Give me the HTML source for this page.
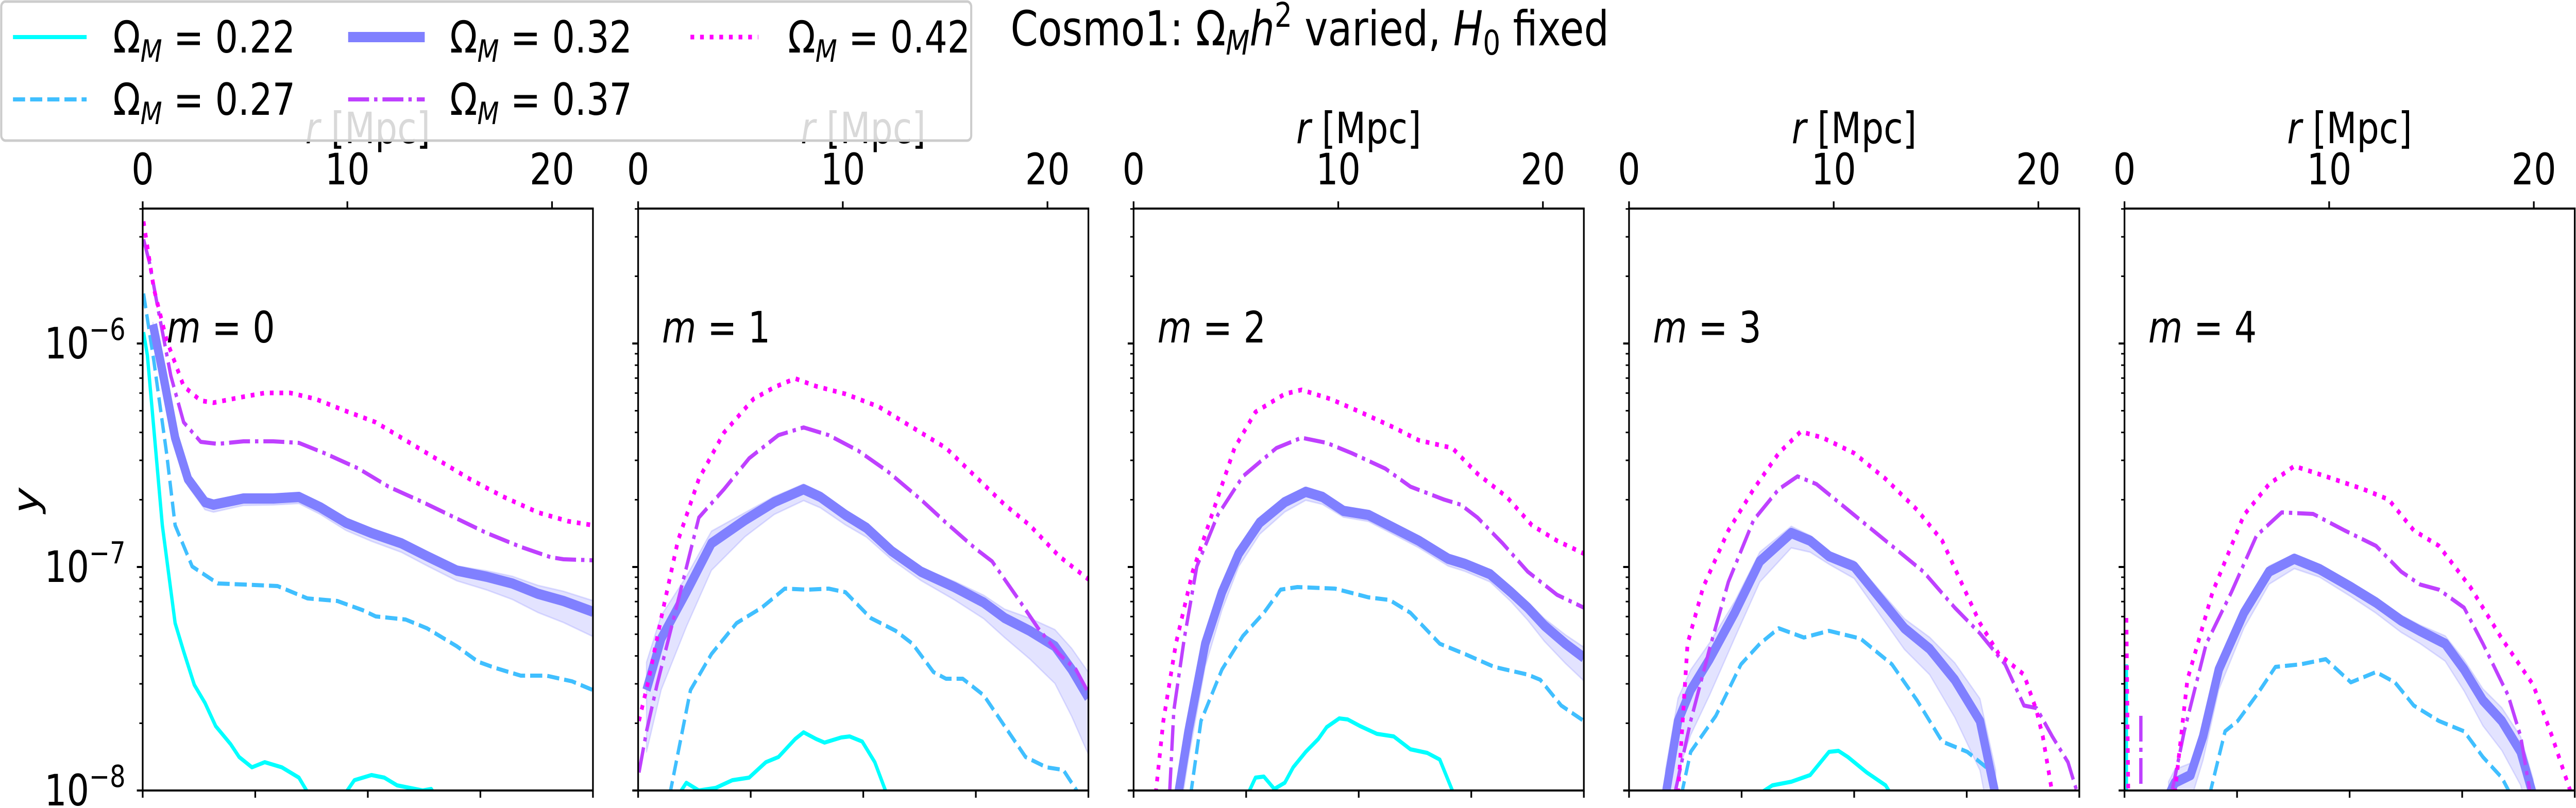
<!DOCTYPE html>
<html><head><meta charset="utf-8"><style>
html,body{margin:0;padding:0;background:#fff;overflow:hidden;width:100vw;height:100vh;}
svg{display:block;position:absolute;left:0;top:0;width:100vw;height:100vh;}
text{font-family:"DejaVu Sans","Liberation Sans",sans-serif;fill:#000;}
</style></head><body>
<svg id="s" xmlns="http://www.w3.org/2000/svg" viewBox="0 0 6156 1569" preserveAspectRatio="none"></svg>
<script>
const svg=document.getElementById('s');
let out='';
const TOP=405,BOT=1535,W=1076;
const lefts=[341,1525,2709,3893,5077];
const zx=[[334,1389],[25,1100],[59,1134],[62,778],[850,1566]];
const C={c:'#00ffff',d:'#40bfff',t:'#8080ff',dd:'#bf40ff',p:'#ff00ff'};
const style={
 c:`stroke="${C.c}" stroke-width="8"`,
 d:`stroke="${C.d}" stroke-width="8" stroke-dasharray="29 12"`,
 t:`stroke="${C.t}" stroke-width="20"`,
 dd:`stroke="${C.dd}" stroke-width="8" stroke-dasharray="50 12 8 12"`,
 p:`stroke="${C.p}" stroke-width="9" stroke-dasharray="9 14"`
};
const data=[
{p:[[336,430],[360,560],[390,660],[430,750],[470,778],[500,782],[560,772],[620,763],[680,763],[740,775],[800,795],[880,820],[950,855],[1030,895],[1100,930],[1180,965],[1260,995],[1330,1012],[1389,1020]],
dd:[[336,465],[350,510],[370,600],[400,730],[430,820],[470,858],[510,862],[570,857],[640,857],[700,860],[760,880],[840,910],[910,945],[990,975],[1060,1003],[1140,1035],[1220,1062],[1290,1082],[1320,1086],[1389,1088]],
t:[[358,630],[380,720],[410,850],[440,930],[480,975],[500,980],[570,968],[640,968],[700,965],[750,985],[810,1015],[870,1035],[940,1055],[1000,1080],[1070,1108],[1140,1120],[1200,1133],[1260,1153],[1320,1167],[1389,1188]],
w:[[0,8],[0.1,15],[0.3,12],[0.7,20],[1,48]],
d:[[336,570],[360,700],[390,880],[410,1020],[450,1100],[510,1133],[570,1135],[650,1138],[720,1162],[790,1167],[850,1185],[880,1197],[950,1203],[1000,1220],[1070,1255],[1120,1285],[1160,1297],[1220,1312],[1280,1312],[1340,1323],[1389,1340]],
c:[[[336,645],[345,690],[380,1020],[410,1210],[430,1265],[455,1330],[480,1365],[505,1410],[540,1445],[560,1470],[590,1490],[620,1480],[660,1490],[700,1510],[725,1545]],[[805,1545],[830,1515],[870,1505],[900,1510],[930,1525],[960,1530],[990,1535],[1010,1532],[1020,1545]]]},
{p:[[27,1400],[50,1320],[80,1200],[120,1050],[170,930],[230,840],[300,775],[350,752],[400,735],[450,750],[520,765],[600,790],[680,830],[760,870],[830,925],[900,980],[960,1020],[1030,1080],[1100,1125]],
dd:[[27,1500],[45,1420],[70,1330],[110,1200],[170,1005],[230,950],[290,890],[360,845],[420,830],[480,845],[550,875],[620,915],[700,970],[760,1015],[830,1065],[870,1090],[930,1160],[980,1220],[1030,1270],[1070,1300],[1100,1345]],
t:[[45,1340],[80,1240],[140,1150],[200,1055],[280,1010],[350,975],[420,950],[460,965],[520,1000],[570,1025],[630,1070],[700,1110],[780,1140],[850,1170],[900,1200],[960,1225],[1020,1255],[1060,1300],[1100,1355]],
w:[[0,120],[0.08,70],[0.25,25],[0.6,15],[0.8,35],[0.92,70],[1,110]],
d:[[100,1545],[150,1340],[200,1270],[260,1210],[320,1180],[375,1143],[430,1145],[480,1143],[520,1150],[580,1200],[640,1225],[680,1250],[730,1305],[760,1318],[800,1318],[850,1350],[900,1410],[950,1470],[1000,1490],[1040,1495],[1080,1545]],
c:[[[120,1545],[140,1520],[170,1535],[210,1530],[250,1515],[290,1510],[330,1480],[360,1470],[400,1435],[420,1422],[450,1435],[470,1442],[510,1432],[530,1430],[560,1440],[590,1480],[620,1545]]]},
{p:[[112,1540],[130,1400],[160,1250],[200,1110],[250,990],[300,870],[350,800],[420,765],[460,757],[530,775],[600,800],[680,830],[740,855],[820,870],[880,920],[950,965],[1010,1020],[1070,1050],[1134,1075]],
dd:[[145,1540],[155,1380],[180,1240],[210,1100],[260,1000],[320,925],[400,870],[460,850],[520,860],[580,880],[660,910],[720,945],[800,970],[840,980],[880,1005],[940,1055],[1000,1110],[1070,1155],[1134,1180]],
t:[[165,1545],[190,1420],[230,1250],[270,1150],[310,1075],[360,1015],[420,975],[470,955],[510,965],[560,992],[620,1000],[680,1025],[740,1050],[810,1085],[850,1095],[910,1115],[960,1150],[1000,1180],[1040,1215],[1090,1250],[1134,1277]],
w:[[0,60],[0.15,25],[0.4,12],[0.8,15],[1,45]],
d:[[195,1545],[220,1400],[270,1300],[320,1235],[370,1190],[410,1145],[450,1140],[540,1143],[620,1160],[670,1165],[720,1190],[790,1250],[850,1270],[920,1295],[1000,1310],[1030,1320],[1080,1370],[1134,1400]],
c:[[[330,1545],[350,1510],[370,1508],[395,1532],[420,1520],[440,1490],[470,1460],[500,1435],[520,1412],[550,1395],[570,1397],[600,1410],[640,1425],[680,1430],[720,1455],[760,1462],[790,1475],[825,1545]]]},
{p:[[140,1540],[155,1250],[180,1140],[220,1030],[260,950],[300,880],[335,838],[370,850],[420,880],[470,930],[520,990],[560,1050],[590,1130],[620,1210],[650,1270],[690,1310],[710,1380],[720,1430],[735,1540]],
dd:[[135,1540],[160,1400],[190,1260],[220,1130],[260,1010],[300,950],[330,925],[360,940],[420,1000],[480,1060],[530,1110],[580,1180],[620,1230],[660,1290],[690,1370],[710,1375],[735,1430],[760,1480],[775,1540]],
t:[[120,1545],[140,1400],[160,1340],[190,1280],[230,1190],[270,1090],[320,1035],[350,1050],[380,1080],[420,1100],[460,1160],[500,1220],[540,1260],[580,1320],[620,1400],[645,1545]],
w:[[0,110],[0.2,50],[0.5,15],[0.8,50],[1,110]],
d:[[145,1545],[160,1460],[200,1390],[240,1290],[270,1250],[300,1220],[340,1238],[380,1225],[430,1240],[480,1290],[520,1360],[560,1440],[600,1460],[630,1490],[650,1545]],
c:[[[265,1545],[290,1525],[320,1518],[350,1505],[380,1460],[395,1458],[410,1470],[440,1500],[470,1525],[480,1545]]]},
{p:[[930,1540],[950,1320],[990,1150],[1040,1000],[1080,940],[1120,905],[1170,925],[1230,950],[1270,970],[1310,1030],[1350,1060],[1400,1140],[1450,1240],[1500,1330],[1530,1430],[1560,1540]],
dd:[[925,1540],[945,1420],[980,1250],[1020,1150],[1060,1040],[1100,995],[1150,998],[1200,1030],[1250,1060],[1290,1110],[1320,1135],[1350,1145],[1390,1180],[1420,1250],[1460,1350],[1480,1430],[1495,1540]],
t:[[920,1545],[930,1520],[955,1505],[975,1430],[1000,1300],[1040,1190],[1080,1110],[1120,1085],[1160,1105],[1210,1140],[1250,1170],[1290,1205],[1320,1225],[1360,1250],[1390,1300],[1420,1360],[1450,1400],[1480,1460],[1500,1545]],
w:[[0,60],[0.2,30],[0.4,15],[0.7,25],[1,70]],
d:[[985,1545],[1010,1420],[1030,1400],[1060,1350],[1090,1295],[1130,1290],[1170,1280],[1210,1325],[1250,1305],[1280,1325],[1310,1370],[1350,1400],[1390,1420],[1420,1470],[1450,1510],[1465,1545]],
c:[[[853,1290],[853,1545]]],
extra:[['p',[[853,1200],[856,1545]]],['dd',[[876,1390],[876,1545]]]]}
];
function interpW(w,t){for(let i=1;i<w.length;i++){if(t<=w[i][0]){const a=w[i-1],b=w[i];const f=(t-a[0])/(b[0]-a[0]);return a[1]+f*(b[1]-a[1]);}}return w[w.length-1][1];}
out+='<defs>';
lefts.forEach((L,i)=>{out+=`<clipPath id="cp${i}"><rect x="${L}" y="${TOP}" width="${W}" height="${BOT-TOP}"/></clipPath>`;});
out+='</defs>';
data.forEach((D,i)=>{
 const L=lefts[i],[a,b]=zx[i];
 const X=x=>(L+(x-a)/(b-a)*W).toFixed(1);
 const pts=arr=>arr.map(p=>X(p[0])+','+p[1]).join(' ');
 let g=`<g clip-path="url(#cp${i})" fill="none" stroke-linejoin="round">`;
 const t0=D.t[0][0],t1=D.t[D.t.length-1][0];
 const up=D.t.map(p=>{const w=interpW(D.w,(p[0]-t0)/(t1-t0));return X(p[0])+','+(p[1]-w*0.45).toFixed(1);});
 const lo=D.t.map(p=>{const w=interpW(D.w,(p[0]-t0)/(t1-t0));return X(p[0])+','+(p[1]+w).toFixed(1);}).reverse();
 g+=`<polygon points="${up.concat(lo).join(' ')}" fill="rgba(128,128,255,0.22)" stroke="rgba(128,128,255,0.25)" stroke-width="3"/>`;
 D.c.forEach(s=>{g+=`<polyline points="${pts(s)}" ${style.c}/>`;});
 g+=`<polyline points="${pts(D.d)}" ${style.d}/>`;
 g+=`<polyline points="${pts(D.t)}" ${style.t}/>`;
 g+=`<polyline points="${pts(D.dd)}" ${style.dd}/>`;
 g+=`<polyline points="${pts(D.p)}" ${style.p}/>`;
 if(D.extra)D.extra.forEach(e=>{g+=`<polyline points="${pts(e[1])}" ${style[e[0]]}/>`;});
 g+='</g>';
 out+=g;
 out+=`<rect x="${L}" y="${TOP}" width="${W}" height="${BOT-TOP}" fill="none" stroke="#000" stroke-width="4"/>`;
 [1535,1101,667].forEach(y=>{out+=`<line x1="${L-14}" x2="${L}" y1="${y}" y2="${y}" stroke="#000" stroke-width="4"/>`;});
 [0,1,2].forEach(k=>{const base=1535-434*k;for(let m=2;m<=9;m++){const y=base-434*Math.log10(m);if(y<TOP)continue;out+=`<line x1="${L-8}" x2="${L}" y1="${y.toFixed(1)}" y2="${y.toFixed(1)}" stroke="#000" stroke-width="3"/>`;}});
 [0,10,20].forEach(r=>{const x=L+r/22*W;out+=`<line x1="${x}" x2="${x}" y1="${TOP-14}" y2="${TOP}" stroke="#000" stroke-width="4"/><text x="${x}" y="358" font-size="84" text-anchor="middle">${r}</text>`;});
 [0,1,2,3,4].forEach(k=>{const x=L+k*W/4;out+=`<line x1="${x}" x2="${x}" y1="${BOT}" y2="${BOT+14}" stroke="#000" stroke-width="4"/>`;});
 out+=`<text x="${L+57}" y="665" font-size="84"><tspan font-style="italic">m</tspan> = ${i}</text>`;
 out+=`<text x="${L+W/2}" y="278" font-size="84" text-anchor="middle"><tspan font-style="italic">r</tspan> [Mpc]</text>`;
});
[[696,'6'],[1130,'7'],[1564,'8']].forEach(([y,e])=>{out+=`<text x="300" y="${y}" font-size="84" text-anchor="end">10<tspan dy="-36" font-size="59">−${e}</tspan></text>`;});
out+=`<text transform="translate(92,972) rotate(-90)" font-size="84" font-style="italic" text-anchor="middle">y</text>`;
out+=`<text x="2415" y="88" font-size="94">Cosmo1: Ω<tspan font-style="italic" font-size="66" dy="18">M</tspan><tspan font-style="italic" dy="-18">h</tspan><tspan font-size="66" dy="-36">2</tspan><tspan dy="36"> varied, </tspan><tspan font-style="italic">H</tspan><tspan font-size="66" dy="18">0</tspan><tspan dy="-18"> fixed</tspan></text>`;
out+=`<rect x="3" y="3" width="2318" height="270" rx="10" fill="#fff" fill-opacity="0.85" stroke="#ccc" stroke-width="5"/>`;
const leg=[[31,207,270,72,'c','0.22'],[31,207,270,193,'d','0.27'],[832,1015,1075,72,'t','0.32'],[832,1015,1075,193,'dd','0.37'],[1650,1812,1883,72,'p','0.42']];
leg.forEach(([x1,x2,tx,y,k,v])=>{out+=`<line x1="${x1}" x2="${x2}" y1="${y}" y2="${y}" fill="none" ${style[k]}/>`;out+=`<text x="${tx}" y="${y+30}" font-size="86">Ω<tspan font-style="italic" font-size="60" dy="18">M</tspan><tspan dy="-18"> = ${v}</tspan></text>`;});
svg.innerHTML=out;
</script>
</body></html>
